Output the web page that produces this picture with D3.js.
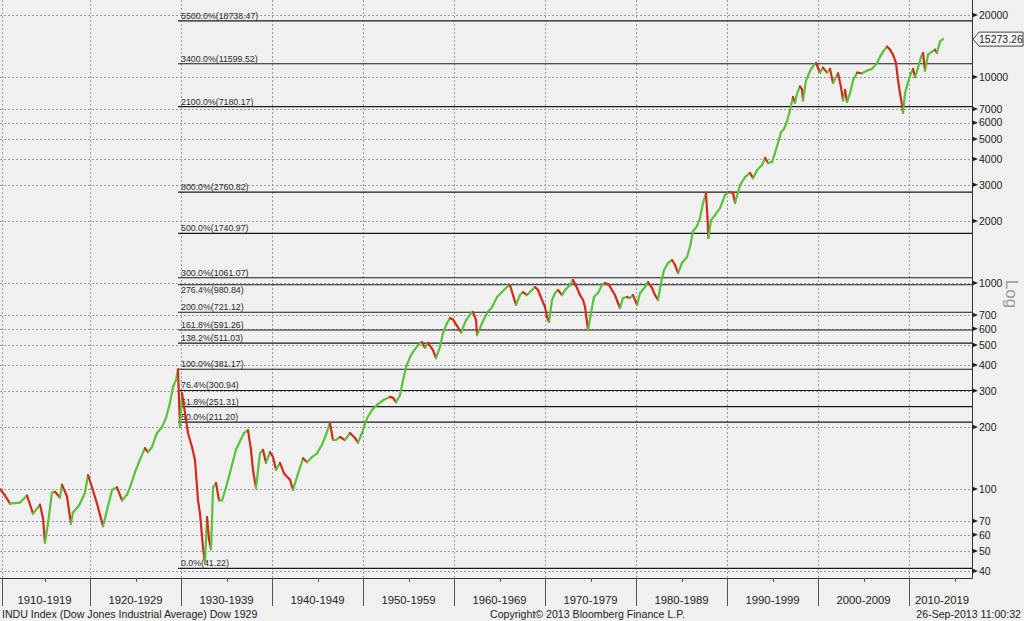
<!DOCTYPE html>
<html>
<head>
<meta charset="utf-8">
<script src="https://cdn.jsdelivr.net/npm/d3@7/dist/d3.min.js"></script>
<style>
html,body{margin:0;padding:0;background:#f0f0f0;}
svg{display:block;}
</style>
</head>
<body>
<svg id="chart" width="1024" height="621"></svg>
<script>
// ---- data ----
const years = [1910.11,1910.66,1911.21,1912.31,1913.08,1913.74,1914.51,1914.84,1915.05,1915.38,1915.82,1916.15,1916.70,1916.92,1917.47,1917.91,1918.13,1918.68,1918.90,1919.45,1919.78,1920.22,1920.77,1921.43,1921.87,1922.42,1922.97,1923.52,1924.07,1924.40,1924.95,1925.49,1926.04,1926.37,1926.81,1927.36,1927.91,1928.35,1928.79,1929.12,1929.45,1929.67,1929.89,1930.11,1930.44,1930.77,1931.21,1931.54,1931.87,1932.09,1932.42,1932.64,1932.86,1933.08,1933.30,1933.52,1933.85,1934.18,1934.51,1934.95,1935.38,1936.04,1936.92,1937.36,1937.69,1937.91,1938.24,1938.68,1939.01,1939.34,1939.78,1940.11,1940.44,1940.88,1941.32,1941.98,1942.31,1942.86,1943.41,1943.85,1944.40,1944.95,1945.49,1945.93,1946.37,1946.70,1947.03,1947.47,1948.02,1948.57,1949.12,1949.45,1949.89,1950.44,1950.99,1951.54,1952.20,1952.97,1953.30,1953.63,1954.07,1954.40,1954.73,1955.16,1955.49,1956.04,1956.48,1956.81,1957.14,1957.69,1958.02,1958.46,1958.79,1959.23,1959.56,1959.89,1960.33,1960.77,1961.32,1961.87,1962.09,1962.42,1962.53,1963.08,1963.63,1964.18,1964.73,1965.27,1965.82,1966.15,1966.48,1966.81,1967.25,1967.58,1968.02,1968.35,1968.90,1969.23,1969.67,1970.00,1970.22,1970.44,1970.77,1971.10,1971.43,1971.87,1972.20,1972.75,1973.08,1973.52,1973.85,1974.18,1974.40,1974.73,1975.05,1975.38,1975.82,1976.26,1976.59,1977.03,1977.36,1977.69,1978.02,1978.24,1978.57,1979.01,1979.34,1979.67,1980.11,1980.44,1980.99,1981.32,1981.76,1982.09,1982.42,1982.75,1983.08,1983.52,1983.96,1984.29,1984.62,1985.05,1985.60,1985.93,1986.26,1986.70,1987.03,1987.36,1987.69,1987.85,1987.95,1988.24,1988.68,1989.23,1989.78,1990.22,1990.66,1990.88,1991.43,1991.98,1992.53,1992.86,1993.30,1993.85,1994.18,1994.51,1994.95,1995.27,1995.60,1995.93,1996.26,1996.59,1996.92,1997.25,1997.47,1997.69,1998.02,1998.24,1998.35,1998.68,1999.12,1999.45,1999.78,2000.22,2000.55,2000.99,2001.32,2001.65,2001.98,2002.20,2002.53,2002.75,2002.97,2003.19,2003.52,2003.85,2004.29,2004.84,2005.38,2005.93,2006.48,2006.81,2007.14,2007.58,2007.91,2008.24,2008.57,2008.79,2009.01,2009.23,2009.34,2009.56,2009.89,2010.22,2010.44,2010.66,2010.99,2011.32,2011.54,2011.76,2012.09,2012.53,2012.86,2013.08,2013.41,2013.74];
const values = [100,93,85,86,93,76,84,72,55,68,96,97,91,105,92,68,77,82,85,96,117,102,85,66,79,99,102,88,94,102,121,139,158,151,160,187,200,221,262,313,338,381,200,293,233,187,160,138,88,76,52,44,73,57,51,102,107,88,88,102,120,155,187,193,155,124,101,149,155,134,151,143,124,134,119,111,99,119,141,135,143,149,164,183,209,173,173,179,173,187,177,168,187,221,242,256,270,280,277,264,286,338,391,437,462,500,517,484,512,473,432,490,572,639,676,665,620,575,661,715,723,661,559,639,715,765,855,904,956,978,874,783,874,904,874,904,956,925,827,765,684,647,827,894,925,874,925,978,1034,946,874,827,765,591,715,855,894,978,1000,978,925,874,800,756,846,855,846,874,783,894,956,1011,946,874,827,1000,1156,1251,1293,1223,1118,1251,1338,1496,1780,1890,2067,2445,2733,2091,1654,2020,2136,2311,2673,2765,2733,2445,2986,3265,3422,3228,3536,3739,4046,3824,3867,4276,4780,5400,5600,6100,6900,8000,7500,8300,9000,8700,7700,9600,10700,11300,11700,10500,11100,10500,10950,9360,10000,10430,8910,7700,8660,7570,8340,9652,10500,10430,10740,10950,11680,12530,13270,14050,13580,12830,11680,9652,8340,7300,6700,8340,9440,10430,10950,10000,11100,12530,13080,10740,12830,13270,13580,13080,14900,15273.26];

const fibPct = ["5500.0","3400.0","2100.0","800.0","500.0","300.0","276.4","200.0","161.8","138.2","100.0","76.4","61.8","50.0","0.0"];
const fibVal = [18738.47,11599.52,7180.17,2760.82,1740.97,1061.07,980.84,721.12,591.26,511.03,381.17,300.94,251.31,211.20,41.22];
const fibStartYear = 1929.67;

const yTicks = [40,50,60,70,100,200,300,400,500,600,700,1000,2000,3000,4000,5000,6000,7000,10000,20000];
const decades = [1910,1920,1930,1940,1950,1960,1970,1980,1990,2000,2010];
const decadeLabels = ["1910-1919","1920-1929","1930-1939","1940-1949","1950-1959","1960-1969","1970-1979","1980-1989","1990-1999","2000-2009","2010-2019"];
const lastPrice = 15273.26;

const titleText = "INDU Index (Dow Jones Industrial Average) Dow 1929";
const copyText = "Copyright\u00A9 2013 Bloomberg Finance L.P.";
const dateText = "26-Sep-2013 11:00:32";

// ---- layout ----
const W = 1024, H = 621;
const plotL = 0, plotR = 972, plotT = 0, plotB = 578;
const FONT = "'Liberation Sans', Arial, sans-serif";

const svg = d3.select("#chart");
svg.append("rect").attr("width", W).attr("height", H).attr("fill", "#f0f0f0");

const x = d3.scaleLinear().domain([1910.11, 2016.92]).range([plotL, plotR]);
const y = d3.scaleLog().domain([37.0, 23650]).range([plotB, plotT]);

// grid
const grid = svg.append("g");
grid.selectAll("line.h").data(yTicks).join("line")
  .attr("x1", plotL).attr("x2", plotR)
  .attr("y1", d => Math.round(y(d)) + 0.5).attr("y2", d => Math.round(y(d)) + 0.5)
  .attr("stroke", "#9a9a9a").attr("stroke-width", 1).attr("stroke-dasharray", "2,2");
grid.selectAll("line.v").data(decades).join("line")
  .attr("x1", d => Math.max(2, Math.round(x(d))) + 0.5).attr("x2", d => Math.max(2, Math.round(x(d))) + 0.5)
  .attr("y1", plotT).attr("y2", plotB)
  .attr("stroke", "#9a9a9a").attr("stroke-width", 1).attr("stroke-dasharray", "2,2");

// fib lines
const fib = svg.append("g");
const fibData = fibVal.map((v, i) => ({v, p: fibPct[i]}));
fib.selectAll("line").data(fibData).join("line")
  .attr("x1", x(fibStartYear)).attr("x2", plotR)
  .attr("y1", d => y(d.v)).attr("y2", d => y(d.v))
  .attr("stroke", "#1a1a1a").attr("stroke-width", 1.1);
// labels sit just above their line; when the next line up is too close, put the label under its own line
fib.selectAll("text").data(fibData).join("text")
  .attr("x", x(fibStartYear) + 3)
  .attr("y", (d, i) => {
    const crowded = i > 0 && (y(d.v) - y(fibVal[i - 1])) < 10;
    return crowded ? y(d.v) + 8.5 : y(d.v) - 2;
  })
  .attr("font-family", FONT).attr("font-size", 8.8).attr("fill", "#2a2a2a")
  .text(d => `${d.p}%(${d.v.toFixed(2)})`);

// price series: segments coloured by direction
const pts = years.map((yr, i) => ({yr, v: values[i]}));
const segs = d3.pairs(pts);
svg.append("g").selectAll("line").data(segs).join("line")
  .attr("x1", d => x(d[0].yr)).attr("y1", d => y(d[0].v))
  .attr("x2", d => x(d[1].yr)).attr("y2", d => y(d[1].v))
  .attr("stroke", d => d[1].v >= d[0].v ? "#58c23a" : "#d42a1c")
  .attr("stroke-width", 2.2).attr("stroke-linecap", "round");

// axes lines
svg.append("line").attr("x1", plotR + 0.5).attr("x2", plotR + 0.5).attr("y1", plotT).attr("y2", plotB + 0.5)
  .attr("stroke", "#333").attr("stroke-width", 1);
svg.append("line").attr("x1", plotL).attr("x2", plotR + 0.5).attr("y1", plotB + 0.5).attr("y2", plotB + 0.5)
  .attr("stroke", "#333").attr("stroke-width", 1);

// right axis ticks & labels
const yAx = svg.append("g");
yAx.selectAll("path").data(yTicks).join("path")
  .attr("d", d => { const yy = y(d); return `M${plotR},${yy - 2.5}L${plotR + 6},${yy}L${plotR},${yy + 2.5}Z`; })
  .attr("fill", "#222");
yAx.selectAll("text").data(yTicks).join("text")
  .attr("x", plotR + 7).attr("y", d => y(d)).attr("dy", "0.36em")
  .attr("font-family", FONT).attr("font-size", 10.5).attr("fill", "#222")
  .text(d => d);

// last price tag
const yp = y(lastPrice);
svg.append("path")
  .attr("d", `M${plotR + 1},${yp}L${plotR + 7},${yp - 7}L${W - 1},${yp - 7}L${W - 1},${yp + 7}L${plotR + 7},${yp + 7}Z`)
  .attr("fill", "#f7f7f7").attr("stroke", "#444").attr("stroke-width", 1);
svg.append("text").attr("x", plotR + 7).attr("y", yp).attr("dy", "0.36em")
  .attr("font-family", FONT).attr("font-size", 10.5).attr("fill", "#222")
  .text(lastPrice.toFixed(2));

// "Log" label
svg.append("text").attr("transform", `translate(1006,294) rotate(90)`)
  .attr("text-anchor", "middle")
  .attr("font-family", FONT).attr("font-size", 17).attr("fill", "#9a9a9a")
  .text("Log");

// x axis ticks & labels
const xAx = svg.append("g");
xAx.selectAll("line.maj").data(decades.slice(1)).join("line")
  .attr("x1", d => Math.round(x(d)) + 0.5).attr("x2", d => Math.round(x(d)) + 0.5)
  .attr("y1", plotB).attr("y2", plotB + 28)
  .attr("stroke", "#555").attr("stroke-width", 1);
xAx.selectAll("line.min").data(decades.map(d => d + 5)).join("line")
  .attr("x1", d => Math.round(x(d)) + 0.5).attr("x2", d => Math.round(x(d)) + 0.5)
  .attr("y1", plotB).attr("y2", plotB + 4)
  .attr("stroke", "#555").attr("stroke-width", 1);
xAx.append("line").attr("x1", 2.5).attr("x2", 2.5).attr("y1", plotB).attr("y2", plotB + 28)
  .attr("stroke", "#555").attr("stroke-width", 1);
xAx.selectAll("text").data(decades).join("text")
  .attr("x", (d, i) => Math.min(x(d + 5), 942))
  .attr("y", 604)
  .attr("text-anchor", "middle")
  .attr("font-family", FONT).attr("font-size", 11.3).attr("fill", "#222")
  .text((d, i) => decadeLabels[i]);

// footer
svg.append("text").attr("x", 2).attr("y", 617.5)
  .attr("font-family", FONT).attr("font-size", 10.6).attr("fill", "#222").text(titleText);
svg.append("text").attr("x", 490).attr("y", 617.5)
  .attr("font-family", FONT).attr("font-size", 10.6).attr("fill", "#222").text(copyText);
svg.append("text").attr("x", 1021).attr("y", 617.5).attr("text-anchor", "end")
  .attr("font-family", FONT).attr("font-size", 10.6).attr("fill", "#222").text(dateText);
</script>
</body>
</html>
